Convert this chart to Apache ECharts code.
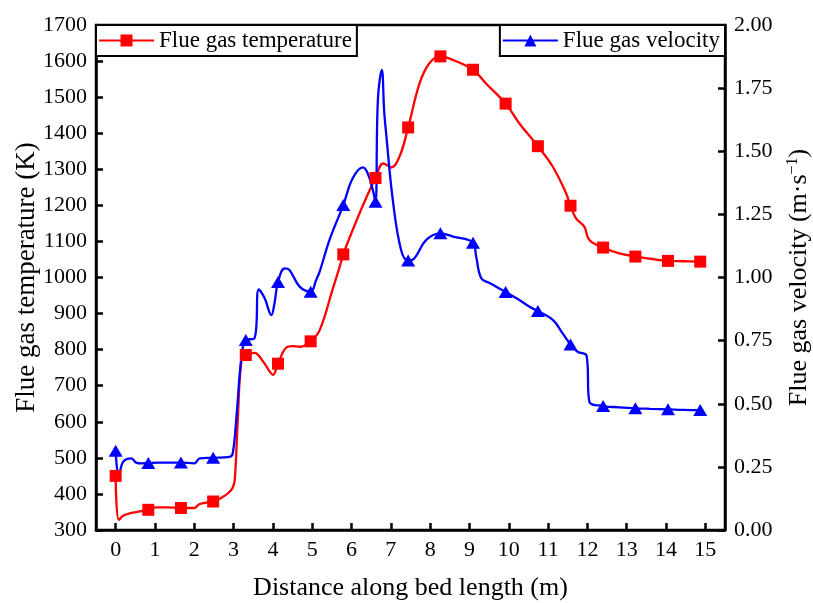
<!DOCTYPE html>
<html><head><meta charset="utf-8">
<script src="https://cdn.jsdelivr.net/npm/echarts@6/dist/echarts.min.js"></script>
<style>html,body{margin:0;padding:0;background:#fff}#c{width:813px;height:603px}</style>
</head><body><div id="c"></div>
<script>
const FONT = "'Liberation Serif','Times New Roman',serif";
const xTicks = [0,1,2,3,4,5,6,7,8,9,10,11,12,13,14,15];

// marker positions (m) shared by both series
const markerDist = [0, 0.83, 1.66, 2.48, 3.31, 4.13, 4.96, 5.79, 6.61, 7.44, 8.26, 9.09, 9.92, 10.74, 11.57, 12.40, 13.22, 14.05, 14.87];
const tempMarkers = [450, 356, 361, 379, 785, 761, 823, 1064, 1276, 1416, 1613, 1576, 1482, 1364, 1199, 1083, 1058, 1046, 1044];
const velMarkers = [0.314, 0.265, 0.267, 0.286, 0.752, 0.982, 0.944, 1.287, 1.300, 1.067, 1.175, 1.138, 0.943, 0.867, 0.735, 0.491, 0.482, 0.478, 0.475];

// additional curve points (between markers)
const tempCurveDist = [0.08, 0.2, 0.43, 0.65, 1.04, 1.3, 2.0, 2.14, 2.7, 2.88, 2.98, 3.03, 3.1, 3.2, 3.53, 3.75, 3.92, 4.0, 4.34, 4.5, 4.68, 5.19, 5.53, 5.7, 6.03, 6.25, 6.46, 6.8, 6.9, 7.01, 7.22, 7.73, 7.98, 8.58, 9.42, 10.27, 11.12, 11.46, 11.71, 11.92, 12.05, 12.81, 13.6, 14.45];
const tempCurveVal = [328, 340, 348, 352, 363, 363, 361, 372, 390, 404, 418, 440, 590, 770, 791, 767, 739, 730, 806, 810, 808, 854, 971, 1030, 1132, 1190, 1242, 1316, 1312, 1305, 1335, 1538, 1594, 1603, 1538, 1427, 1307, 1233, 1164, 1141, 1104, 1067, 1052, 1045];

const velCurveDist = [0.08, 0.19, 0.4, 0.52, 0.65, 1.08, 1.3, 2.0, 2.14, 2.9, 2.98, 3.08, 3.2, 3.53, 3.64, 3.79, 3.96, 4.04, 4.3, 4.42, 4.68, 5.1, 5.19, 5.44, 6.03, 6.29, 6.41, 6.54, 6.67, 6.77, 6.83, 6.88, 7.05, 7.26, 7.6, 7.9, 8.58, 9.17, 9.3, 9.51, 10.27, 10.53, 11.12, 11.37, 11.75, 11.98, 12.05, 12.8, 13.6, 14.45];
const velCurveVal = [0.211, 0.270, 0.284, 0.267, 0.264, 0.267, 0.267, 0.264, 0.284, 0.290, 0.304, 0.463, 0.686, 0.759, 0.953, 0.918, 0.851, 0.898, 1.036, 1.030, 0.964, 0.990, 1.023, 1.149, 1.393, 1.436, 1.413, 1.347, 1.703, 1.822, 1.660, 1.571, 1.307, 1.109, 1.076, 1.149, 1.162, 1.083, 0.997, 0.978, 0.911, 0.884, 0.832, 0.779, 0.706, 0.690, 0.508, 0.486, 0.480, 0.476];

function buildLine(cx, cy, mx, my) {
  const pts = [];
  cx.forEach((x, i) => pts.push({x: x, y: cy[i], m: false}));
  mx.forEach((x, i) => pts.push({x: x, y: my[i], m: true}));
  pts.sort((a, b) => a.x - b.x);
  return pts.map(p => p.m ? {value: [p.x, p.y]} : {value: [p.x, p.y], symbol: 'none'});
}

const chart = echarts.init(document.getElementById('c'), null, {renderer: 'canvas'});
const axisLineStyle = {color: '#000', width: 2.5};
const legendCommon = {
  top: 25, orient: 'horizontal', itemWidth: 55, itemHeight: 15,
  borderColor: '#000', borderWidth: 2, padding: [4, 5, 4, 2], backgroundColor: '#fff',
  textStyle: {fontFamily: FONT, fontSize: 23, color: '#000'}, selectedMode: false
};
chart.setOption({
  animation: false,
  backgroundColor: '#fff',
  textStyle: {fontFamily: FONT},
  grid: {left: 96, right: 88, top: 25, bottom: 73, show: true, borderColor: '#000', borderWidth: 2.5,
         backgroundColor: 'transparent', containLabel: false, outerBoundsMode: 'none'},
  legend: [
    Object.assign({}, legendCommon, {left: 96, data: ['Flue gas temperature']}),
    Object.assign({}, legendCommon, {right: 88, data: ['Flue gas velocity']})
  ],
  xAxis: {
    type: 'value', min: -0.5, max: 15.5,
    name: 'Distance along bed length (m)', nameLocation: 'middle', nameGap: 45, nameMoveOverlap: false,
    nameTextStyle: {fontFamily: FONT, fontSize: 26, color: '#000'},
    axisLine: {show: true, onZero: false, lineStyle: axisLineStyle},
    axisTick: {show: true, inside: true, length: 7, lineStyle: {color: '#000', width: 2.5}, customValues: xTicks},
    axisLabel: {customValues: xTicks, fontFamily: FONT, fontSize: 22, color: '#000', margin: 9, formatter: v => String(v)},
    splitLine: {show: false}
  },
  yAxis: [
    {
      type: 'value', min: 300, max: 1700, interval: 100, position: 'left',
      name: 'Flue gas temperature (K)', nameLocation: 'middle', nameGap: 56, nameRotate: 90, nameMoveOverlap: false,
      nameTextStyle: {fontFamily: FONT, fontSize: 27, color: '#000'},
      axisLine: {show: true, onZero: false, lineStyle: axisLineStyle},
      axisTick: {show: true, inside: true, length: 7, lineStyle: {color: '#000', width: 2.5}},
      axisLabel: {fontFamily: FONT, fontSize: 22, color: '#000', margin: 9, formatter: v => String(v)},
      splitLine: {show: false}
    },
    {
      type: 'value', min: 0, max: 2, interval: 0.25, position: 'right',
      name: 'Flue gas velocity (m·s{sup|−1})', nameLocation: 'middle', nameGap: 60, nameRotate: 90, nameMoveOverlap: false,
      nameTextStyle: {fontFamily: FONT, fontSize: 26, color: '#000',
        rich: {sup: {fontFamily: FONT, fontSize: 16, color: '#000', verticalAlign: 'top', padding: [0, 0, 12, 0]}}},
      axisLine: {show: true, onZero: false, lineStyle: axisLineStyle},
      axisTick: {show: true, inside: true, length: 7, lineStyle: {color: '#000', width: 2.5}},
      axisLabel: {fontFamily: FONT, fontSize: 22, color: '#000', margin: 9, formatter: v => v.toFixed(2)},
      splitLine: {show: false}
    }
  ],
  series: [
    {
      name: 'Flue gas temperature', type: 'line', yAxisIndex: 0,
      data: buildLine(tempCurveDist, tempCurveVal, markerDist, tempMarkers),
      symbol: 'rect', symbolSize: 12, showSymbol: true, showAllSymbol: true,
      smooth: 0.4,
      lineStyle: {color: '#ff0000', width: 2.3}, itemStyle: {color: '#ff0000'}
    },
    {
      name: 'Flue gas velocity', type: 'line', yAxisIndex: 1,
      data: buildLine(velCurveDist, velCurveVal, markerDist, velMarkers),
      symbol: 'triangle', symbolSize: [14, 12], showSymbol: true, showAllSymbol: true,
      smooth: 0.4,
      lineStyle: {color: '#0000ff', width: 2.3}, itemStyle: {color: '#0000ff'}
    }
  ]
});
</script></body></html>
